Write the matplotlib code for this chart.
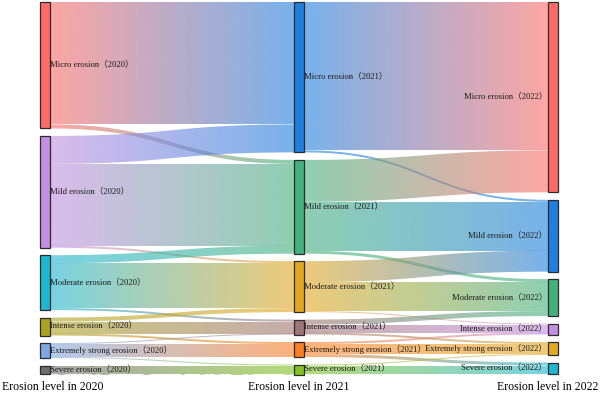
import numpy as np
import matplotlib.pyplot as plt
from matplotlib.path import Path
from matplotlib.patches import PathPatch, Rectangle
from matplotlib.colors import to_rgba

levels = ["Micro erosion", "Mild erosion", "Moderate erosion", "Intense erosion",
          "Extremely strong erosion", "Severe erosion"]
years = ["2020", "2021", "2022"]

colors_2020 = ["#fc6b68", "#c38fe0", "#1fb6cf", "#aaa222", "#7fa6e2", "#6e6e6e"]
colors_2021 = ["#1f7fdf", "#44b07e", "#e3a822", "#a07676", "#fb7f22", "#82c222"]
colors_2022 = ["#fc6b68", "#1f7fdf", "#44b07e", "#c38fe0", "#e3a822", "#1fb6cf"]

# rows = source level, cols = target level
flow_2020_2021 = [
    [123, 4, 0, 0, 0, 0],
    [28, 82, 2, 0, 0, 0],
    [0, 8, 45, 2, 0, 0],
    [0, 0, 4, 12, 2, 0],
    [0, 0, 0, 1, 13, 1],
    [0, 0, 0, 0, 0, 9],
]
flow_2021_2022 = [
    [149, 2, 0, 0, 0, 0],
    [42, 49, 3, 0, 0, 0],
    [0, 21, 29, 1, 0, 0],
    [0, 0, 5, 8, 2, 0],
    [0, 0, 0, 2, 10, 3],
    [0, 0, 0, 0, 1, 8],
]

flows = [np.array(flow_2020_2021, float), np.array(flow_2021_2022, float)]
col_colors = [colors_2020, colors_2021, colors_2022]

# node sizes = max(in, out)
sizes = []
for c in range(3):
    out_ = flows[c].sum(axis=1) if c < 2 else np.zeros(6)
    in_ = flows[c - 1].sum(axis=0) if c > 0 else np.zeros(6)
    sizes.append(np.maximum(in_, out_))

W, H = 600, 394
col_x = [40, 294, 548]
node_w = 10
top, bottom, gap = 1.7, 374.5, 7.5
scale = (bottom - top - gap * 5) / max(s.sum() for s in sizes)

node_top = []
for c in range(3):
    y = top
    tops = []
    for s in sizes[c]:
        tops.append(y)
        y += s * scale + gap
    node_top.append(tops)

fig = plt.figure(figsize=(6, 3.94), dpi=100)
ax = fig.add_axes([0, 0, 1, 1])

lab_font = ["Liberation Serif", "Noto Sans CJK SC"]


def bez(x0, y0, x1, y1, n=60):
    t = np.linspace(0, 1, n)
    xm = (x0 + x1) / 2
    xs = (1 - t) ** 3 * x0 + 3 * (1 - t) ** 2 * t * xm + 3 * (1 - t) * t ** 2 * xm + t ** 3 * x1
    ys = (1 - t) ** 3 * y0 + 3 * (1 - t) ** 2 * t * y0 + 3 * (1 - t) * t ** 2 * y1 + t ** 3 * y1
    return xs, ys


for c in range(2):
    F = flows[c]
    # target offsets ordered by source index
    tgt_start = {}
    for j in range(6):
        off = 0.0
        for i in range(6):
            if F[i, j] > 0:
                tgt_start[(i, j)] = node_top[c + 1][j] + off
                off += F[i, j] * scale
    xa = col_x[c] + node_w
    xb = col_x[c + 1]
    for i in range(6):
        off = 0.0
        for j in range(6):
            v = F[i, j]
            if v <= 0:
                continue
            h = v * scale
            y0 = node_top[c][i] + off
            y1 = tgt_start[(i, j)]
            off += h
            tx, ty = bez(xa, y0, xb, y1)
            bx, by = bez(xb, y1 + h, xa, y0 + h)
            verts = np.concatenate([np.column_stack([tx, ty]), np.column_stack([bx, by])])
            patch = PathPatch(Path(verts), facecolor="none", edgecolor="none")
            ax.add_patch(patch)
            cs = np.array(to_rgba(col_colors[c][i]))
            ct = np.array(to_rgba(col_colors[c + 1][j]))
            g = np.linspace(0, 1, 256)[:, None]
            grad = (1 - g) * cs + g * ct
            grad[:, 3] = 0.6
            im = ax.imshow(grad[None, :, :], extent=(xa, xb, H, 0), aspect="auto",
                           interpolation="bilinear", zorder=1)
            im.set_clip_path(patch)

for c in range(3):
    for k in range(6):
        h = sizes[c][k] * scale
        ax.add_patch(Rectangle((col_x[c], node_top[c][k]), node_w, h,
                               facecolor=col_colors[c][k], edgecolor="#2b2b2b",
                               linewidth=0.9, zorder=3))
        label = f"{levels[k]}（{years[c]}）"
        yc = node_top[c][k] + h / 2
        if c < 2:
            ax.text(col_x[c] + node_w, yc, label, fontsize=6.2, family=lab_font,
                    ha="left", va="center", color="#1a1a1a", zorder=4)
        else:
            ax.text(col_x[c] - 1, yc, label, fontsize=6.2, family=lab_font,
                    ha="right", va="center", color="#1a1a1a", zorder=4)

ax.text(2, 387, "Erosion level in 2020", fontsize=8.5, family=lab_font, ha="left", va="center")
ax.text(col_x[1] + node_w / 2, 387, "Erosion level in 2021", fontsize=8.5, family=lab_font,
        ha="center", va="center")
ax.text(598, 387, "Erosion level in 2022", fontsize=8.5, family=lab_font, ha="right", va="center")

ax.set_xlim(0, W)
ax.set_ylim(H, 0)
ax.axis("off")
fig.savefig("out.png", dpi=100)
